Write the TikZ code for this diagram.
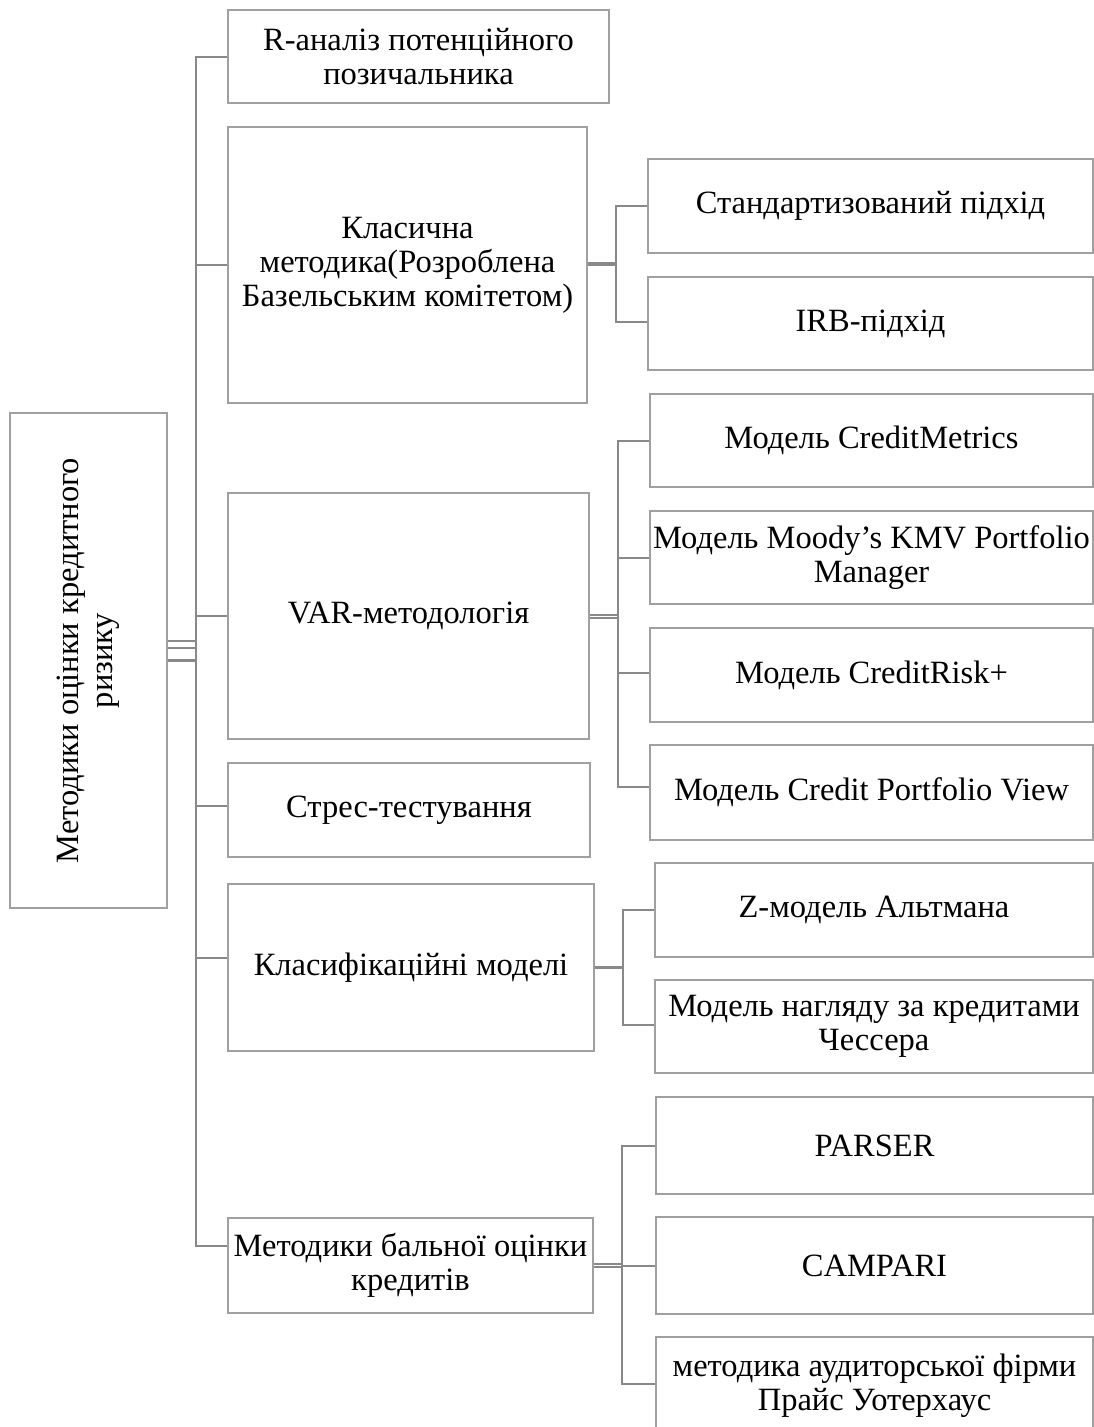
\documentclass[tikz,border=0pt]{standalone}
\usepackage{fontspec}
\setmainfont{Liberation Serif}
\definecolor{boxgray}{RGB}{160,160,160}
\definecolor{lingray}{RGB}{137,137,137}
\tikzset{
  box/.style={draw=boxgray, line width=1.4pt, align=center, inner sep=2pt,
    font=\fontsize{32.5}{34}\selectfont, text=black},
  conn/.style={draw=lingray, line width=2pt},
  thick conn/.style={draw=lingray, line width=3.4pt},
}
\begin{document}
\begin{tikzpicture}[x=1pt,y=-1pt]
\useasboundingbox (0,0) rectangle (1094,1427);
% root
\node[box, rotate=90, minimum width=495pt, minimum height=157pt] (root) at (88.5,660.5)
  {Методики оцінки кредитного\\ризику};
% level 1
\node[box, minimum width=381pt, minimum height=93pt]  (r1) at (418.5,56.5) {R-аналіз потенційного\\позичальника};
\node[box, minimum width=359pt, minimum height=276pt] (r2) at (407.5,265) {Класична\\методика(Розроблена\\Базельським комітетом)};
\node[box, minimum width=361pt, minimum height=246pt] (r3) at (408.5,616) {VAR-методологія};
\node[box, minimum width=362pt, minimum height=94pt]  (r4) at (409,810) {Стрес-тестування};
\node[box, minimum width=366pt, minimum height=167pt] (r5) at (411,967.5) {Класифікаційні моделі};
\node[box, minimum width=365pt, minimum height=95pt]  (r6) at (410.5,1265.5) {Методики бальної оцінки\\кредитів};
% level 2
\node[box, minimum width=445pt, minimum height=94pt] (s1) at (870.5,206) {Стандартизований підхід};
\node[box, minimum width=445pt, minimum height=93pt] (s2) at (870.5,323.5) {IRB-підхід};
\node[box, minimum width=443pt, minimum height=93pt] (v1) at (871.5,440.5) {Модель CreditMetrics};
\node[box, minimum width=443pt, minimum height=93pt] (v2) at (871.5,557.5) {Модель Moody’s KMV Portfolio\\Manager};
\node[box, minimum width=443pt, minimum height=94pt] (v3) at (871.5,675) {Модель CreditRisk+};
\node[box, minimum width=443pt, minimum height=95pt] (v4) at (871.5,792.5) {Модель Credit Portfolio View};
\node[box, minimum width=438pt, minimum height=94pt] (k1) at (874,910) {Z-модель Альтмана};
\node[box, minimum width=438pt, minimum height=93pt] (k2) at (874,1026.5) {Модель нагляду за кредитами\\Чессера};
\node[box, minimum width=437pt, minimum height=97pt] (m1) at (874.5,1145.5) {PARSER};
\node[box, minimum width=437pt, minimum height=97pt] (m2) at (874.5,1265.5) {CAMPARI};
\node[box, minimum width=437pt, minimum height=97pt] (m3) at (874.5,1385.5) {методика аудиторської фірми\\Прайс Уотерхаус};
% trunk coordinates
\coordinate (tx) at (196,0);
\coordinate (sx1) at (616,0);
\coordinate (sx2) at (618,0);
\coordinate (sx3) at (623,0);
\coordinate (sx4) at (622,0);
% main trunk
\draw[conn] (r1.west) -- (r1.west -| tx) -- ([yshift=19.5pt]r6.west -| tx) -- ([yshift=19.5pt]r6.west);
\draw[conn] (r2.west) -- (r2.west -| tx);
\draw[conn] (r3.west) -- (r3.west -| tx);
\draw[conn] ([yshift=4pt]r4.west) -- ([yshift=4pt]r4.west -| tx);
\draw[conn] ([yshift=9.5pt]r5.west) -- ([yshift=9.5pt]r5.west -| tx);
% root stubs
\draw[conn] ([yshift=19.5pt]root.south) -- ([yshift=19.5pt]root.south -| tx);
\draw[conn] ([yshift=12.5pt]root.south) -- ([yshift=12.5pt]root.south -| tx);
\draw[thick conn] (root.south) -- (root.south -| tx);
% Класична
\draw[conn] (s1.west) -- (s1.west -| sx1) -- ([yshift=1.5pt]s2.west -| sx1) -- ([yshift=1.5pt]s2.west);
\draw[thick conn] ([yshift=1pt]r2.east) -- ([yshift=1pt]r2.east -| sx1);
% VAR
\draw[conn] (v1.west) -- (v1.west -| sx2) -- ([yshift=5.5pt]v4.west -| sx2) -- ([yshift=5.5pt]v4.west);
\draw[conn] (v2.west) -- (v2.west -| sx2);
\draw[conn] ([yshift=2pt]v3.west) -- ([yshift=2pt]v3.west -| sx2);
\draw[conn] ([yshift=1.5pt]r3.east) -- ([yshift=1.5pt]r3.east -| sx2);
\draw[conn] ([yshift=-1.5pt]r3.east) -- ([yshift=-1.5pt]r3.east -| sx2);
% Класифікаційні
\draw[conn] (k1.west) -- (k1.west -| sx3) -- ([yshift=1.5pt]k2.west -| sx3) -- ([yshift=1.5pt]k2.west);
\draw[thick conn] (r5.east) -- (r5.east -| sx3);
% Методики бальної
\draw[conn] (m1.west) -- (m1.west -| sx4) -- ([yshift=1.5pt]m3.west -| sx4) -- ([yshift=1.5pt]m3.west);
\draw[conn] (m2.west) -- (m2.west -| sx4);
\draw[conn] ([yshift=1.5pt]r6.east) -- ([yshift=1.5pt]r6.east -| sx4);
\draw[conn] ([yshift=-1.5pt]r6.east) -- ([yshift=-1.5pt]r6.east -| sx4);
\end{tikzpicture}
\end{document}
